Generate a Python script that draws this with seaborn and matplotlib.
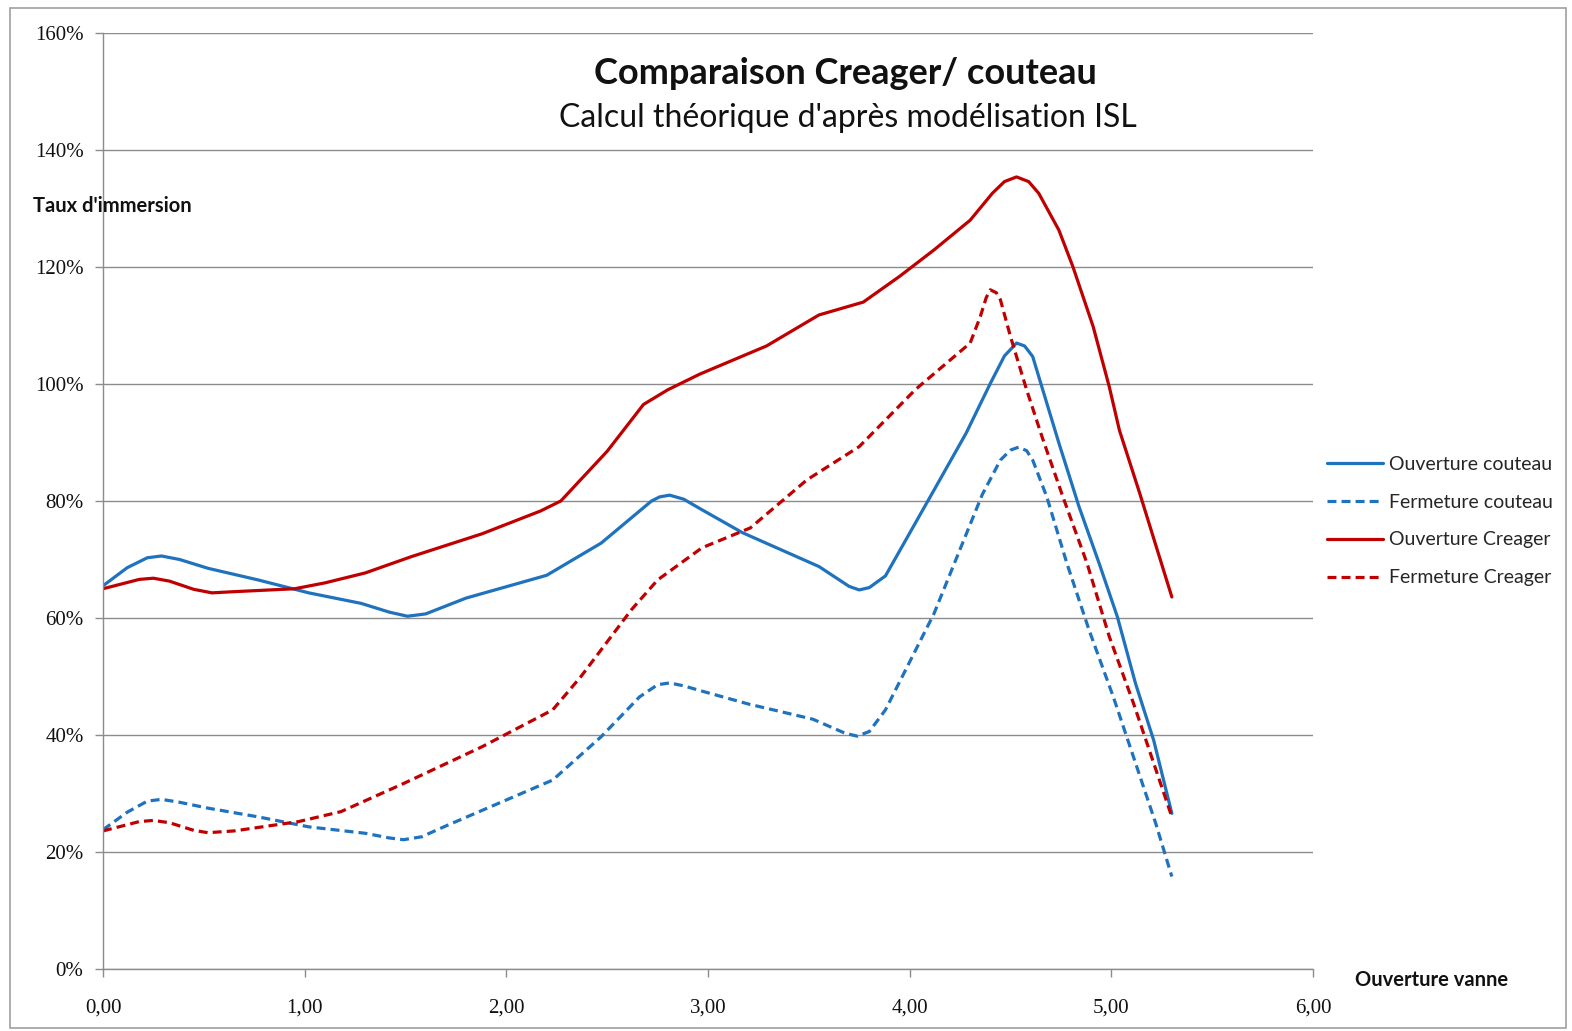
import matplotlib
matplotlib.use("Agg")
import matplotlib.pyplot as plt
import seaborn as sns
import pandas as pd
from matplotlib.ticker import FuncFormatter, MultipleLocator
from matplotlib.patches import Rectangle

# ---- data ----
x_ouv_couteau = [0.00, 0.12, 0.22, 0.29, 0.38, 0.52, 0.77, 1.02, 1.28, 1.42, 1.51, 1.60, 1.80, 2.20,
                 2.47, 2.72, 2.76, 2.81, 2.88, 2.96, 3.17, 3.55, 3.70, 3.75, 3.80, 3.88, 4.10, 4.28,
                 4.40, 4.47, 4.53, 4.57, 4.61, 4.66, 4.74, 4.84, 4.94, 5.03, 5.12, 5.21, 5.30]
y_ouv_couteau = [65.5, 68.6, 70.3, 70.6, 70.0, 68.5, 66.5, 64.3, 62.5, 61.0, 60.3, 60.7, 63.4, 67.3,
                 72.8, 80.0, 80.7, 81.0, 80.3, 78.7, 74.6, 68.8, 65.4, 64.8, 65.2, 67.2, 80.6, 91.6,
                 100.1, 104.8, 107.0, 106.5, 104.7, 99.0, 89.9, 79.0, 69.3, 60.2, 48.8, 39.1, 26.6]

x_ferm_couteau = [0.00, 0.12, 0.22, 0.29, 0.38, 0.52, 0.77, 1.02, 1.30, 1.42, 1.49, 1.58, 1.69, 1.98,
                  2.23, 2.47, 2.66, 2.75, 2.81, 2.88, 2.96, 3.20, 3.52, 3.68, 3.74, 3.80, 3.88, 4.12,
                  4.36, 4.45, 4.50, 4.54, 4.58, 4.61, 4.68, 4.78, 4.89, 5.01, 5.12, 5.22, 5.30]
y_ferm_couteau = [23.8, 26.8, 28.7, 29.0, 28.5, 27.5, 26.0, 24.3, 23.2, 22.4, 22.1, 22.6, 24.3, 28.6,
                  32.3, 39.7, 46.5, 48.6, 48.9, 48.4, 47.6, 45.3, 42.7, 40.3, 39.8, 40.6, 44.3, 60.7,
                  81.1, 87.0, 88.7, 89.2, 88.6, 87.0, 80.7, 69.3, 57.9, 46.5, 35.2, 24.9, 15.8]

x_ouv_creager = [0.00, 0.18, 0.25, 0.33, 0.45, 0.54, 0.65, 0.95, 1.10, 1.30, 1.53, 1.88, 2.17, 2.27,
                 2.50, 2.68, 2.80, 2.96, 3.29, 3.55, 3.77, 3.95, 4.12, 4.30, 4.41, 4.47, 4.53, 4.59,
                 4.64, 4.74, 4.81, 4.91, 4.99, 5.04, 5.14, 5.30]
y_ouv_creager = [65.0, 66.6, 66.8, 66.3, 64.9, 64.3, 64.5, 65.0, 66.0, 67.7, 70.5, 74.4, 78.3, 80.0,
                 88.5, 96.5, 99.0, 101.7, 106.5, 111.8, 114.0, 118.4, 122.9, 128.0, 132.6, 134.6, 135.4, 134.6,
                 132.6, 126.3, 120.0, 109.8, 99.5, 92.1, 81.4, 63.6]

x_ferm_creager = [0.00, 0.18, 0.25, 0.33, 0.45, 0.52, 0.65, 0.97, 1.18, 1.49, 1.88, 2.23, 2.37, 2.62,
                  2.75, 2.97, 3.21, 3.49, 3.75, 4.03, 4.30, 4.35, 4.38, 4.40, 4.43, 4.45, 4.50, 4.58,
                  4.66, 4.76, 4.88, 4.99, 5.11, 5.21, 5.30]
y_ferm_creager = [23.6, 25.2, 25.4, 25.0, 23.7, 23.3, 23.6, 25.2, 26.9, 31.7, 38.0, 44.3, 50.0, 61.4,
                  66.5, 72.0, 75.4, 83.6, 89.3, 99.1, 107.0, 111.5, 114.8, 116.1, 115.6, 114.4, 108.1, 99.0,
                  90.6, 80.7, 69.3, 56.8, 45.4, 35.2, 26.0]

series_names = ["Ouverture couteau", "Fermeture couteau", "Ouverture Creager", "Fermeture Creager"]
title = "Comparaison Creager/ couteau"
subtitle = "Calcul théorique d'après modélisation ISL"
y_label = "Taux d'immersion"
x_label = "Ouverture vanne"

# ---- build long table ----
frames = []
for name, xs, ys in zip(series_names,
                        [x_ouv_couteau, x_ferm_couteau, x_ouv_creager, x_ferm_creager],
                        [y_ouv_couteau, y_ferm_couteau, y_ouv_creager, y_ferm_creager]):
    frames.append(pd.DataFrame({"x": xs, "y": ys, "serie": name}))
df = pd.concat(frames, ignore_index=True)

BLUE = "#1f72bd"
RED = "#c00000"
palette = {series_names[0]: BLUE, series_names[1]: BLUE,
           series_names[2]: RED, series_names[3]: RED}
dashes = {series_names[0]: "", series_names[1]: (2.8, 1.6),
          series_names[2]: "", series_names[3]: (2.8, 1.6)}

sns.set_theme(style="white")
plt.rcParams["font.family"] = ["Lato", "DejaVu Sans"]

fig = plt.figure(figsize=(15.72, 10.31), dpi=100)
ax = fig.add_axes([103 / 1572, 1 - 969 / 1031, (1313 - 103) / 1572, (969 - 33) / 1031])

sns.lineplot(data=df, x="x", y="y", hue="serie", style="serie", palette=palette,
             dashes=dashes, sort=False, estimator=None, linewidth=2.3, ax=ax,
             hue_order=series_names, style_order=series_names)
for ln in ax.get_lines():
    ln.set_solid_joinstyle("round")
    ln.set_dash_joinstyle("round")

ax.set_xlim(0, 6)
ax.set_ylim(0, 160)
ax.xaxis.set_major_locator(MultipleLocator(1))
ax.yaxis.set_major_locator(MultipleLocator(20))
ax.xaxis.set_major_formatter(FuncFormatter(lambda v, p: f"{v:.2f}".replace(".", ",")))
ax.yaxis.set_major_formatter(FuncFormatter(lambda v, p: f"{v:.0f}%"))
ax.set_xlabel("")
ax.set_ylabel("")

GRID = "#8c8c8c"
ax.yaxis.grid(True, color=GRID, linewidth=1.0)
ax.xaxis.grid(False)
for s in ["top", "right"]:
    ax.spines[s].set_visible(False)
for s in ["left", "bottom"]:
    ax.spines[s].set_color(GRID)
    ax.spines[s].set_linewidth(1.0)
ax.tick_params(axis="both", direction="out", color=GRID, width=1.0, length=6,
               labelsize=15, labelcolor="#111111", left=True, bottom=True)
ax.tick_params(axis="x", pad=15)
ax.tick_params(axis="y", pad=8)
for lab in ax.get_xticklabels() + ax.get_yticklabels():
    lab.set_fontfamily(["Liberation Serif", "DejaVu Serif"])

# legend
handles, labels = ax.get_legend_handles_labels()
ax.get_legend().remove()
fig.legend(handles, labels, loc="center left", bbox_to_anchor=(1309 / 1572, 1 - 521 / 1031),
           frameon=False, fontsize=14, handlelength=2.9, handletextpad=0.3, labelspacing=1.08,
           borderpad=0.4)

# titles
fig.text(845 / 1572, 1 - 73 / 1031, title, ha="center", va="center",
         fontsize=26, fontweight="bold", color="#111111")
fig.text(848 / 1572, 1 - 118 / 1031, subtitle, ha="center", va="center",
         fontsize=23, color="#111111")
fig.text(33 / 1572, 1 - 206 / 1031, y_label, ha="left", va="center",
         fontsize=14.5, fontweight="bold", color="#111111")
fig.text(1355 / 1572, 1 - 980 / 1031, x_label, ha="left", va="center",
         fontsize=14.5, fontweight="bold", color="#111111")

# outer chart border
fig.patches.append(Rectangle((10 / 1572, 3 / 1031), 1556 / 1572, 1020 / 1031,
                             transform=fig.transFigure, fill=False,
                             edgecolor="#a0a0a0", linewidth=1.2))

fig.savefig("out.png", dpi=100, facecolor="white")
